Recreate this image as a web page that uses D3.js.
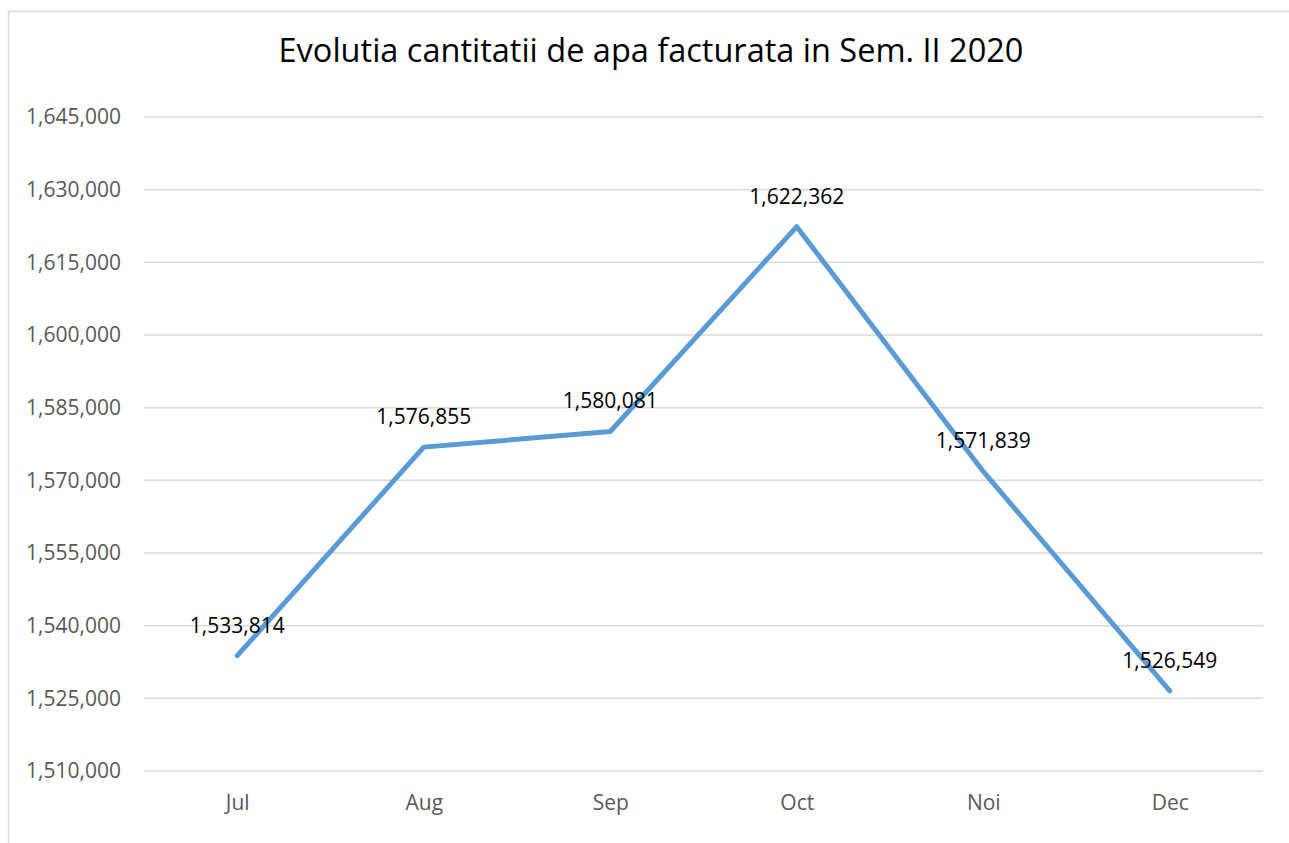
<!DOCTYPE html>
<html>
<head>
<meta charset="utf-8">
<script src="https://cdn.jsdelivr.net/npm/d3@7"></script>
<style>
  body { margin: 0; background: #fff; }
  .chart text { font-family: 'Open Sans', sans-serif; }
</style>
</head>
<body>
<div class="chart"></div>
<script>
const months = ['Jul', 'Aug', 'Sep', 'Oct', 'Noi', 'Dec']
const values = [1533814, 1576855, 1580081, 1622362, 1571839, 1526549]
const yTicks = [1510000, 1525000, 1540000, 1555000, 1570000, 1585000, 1600000, 1615000, 1630000, 1645000]
const title = 'Evolutia cantitatii de apa facturata in Sem. II 2020'

const width = 1289
const height = 843
const margin = { top: 117, right: 26, bottom: 72, left: 144 }

const svg = d3.select('.chart')
  .append('svg')
  .attr('width', width)
  .attr('height', height)

// chart frame
svg.append('rect')
  .attr('x', 8.5)
  .attr('y', 11.5)
  .attr('width', 1300)
  .attr('height', 900)
  .attr('fill', 'none')
  .attr('stroke', '#d9d9d9')
  .attr('stroke-width', 1.5)

const x = d3.scalePoint()
  .domain(months)
  .range([margin.left, width - margin.right])
  .padding(0.5)

const y = d3.scaleLinear()
  .domain([1510000, 1645000])
  .range([height - margin.bottom, margin.top])

const fmt = d3.format(',')

// gridlines
svg.append('g')
  .selectAll('line')
  .data(yTicks)
  .enter()
  .append('line')
  .attr('x1', margin.left)
  .attr('x2', width - margin.right)
  .attr('y1', (d) => { return y(d) })
  .attr('y2', (d) => { return y(d) })
  .attr('stroke', '#d9d9d9')
  .attr('stroke-width', 1.5)

// y axis labels
const yAxis = d3.axisLeft(y).tickValues(yTicks).tickFormat(fmt).tickSize(0).tickPadding(23)
const gy = svg.append('g')
  .attr('transform', `translate(${margin.left},0)`)
  .call(yAxis)
gy.select('.domain').remove()
gy.selectAll('text')
  .attr('fill', '#595959')
  .style('font-size', '21px')

// x axis labels
const xAxis = d3.axisBottom(x).tickSize(0).tickPadding(24)
const gx = svg.append('g')
  .attr('transform', `translate(0,${height - margin.bottom})`)
  .call(xAxis)
gx.select('.domain').remove()
gx.selectAll('text')
  .attr('fill', '#595959')
  .style('font-size', '21px')

// title
svg.append('text')
  .attr('x', 651)
  .attr('y', 62)
  .attr('text-anchor', 'middle')
  .attr('fill', '#000')
  .style('font-size', '32.5px')
  .text(title)

// line
const line = d3.line()
  .x((d, i) => { return x(months[i]) })
  .y((d) => { return y(d) })

svg.append('path')
  .datum(values)
  .attr('d', line)
  .attr('fill', 'none')
  .attr('stroke', '#5b9bd5')
  .attr('stroke-width', 5)
  .attr('stroke-linejoin', 'round')
  .attr('stroke-linecap', 'round')

// data labels
svg.append('g')
  .selectAll('text')
  .data(values)
  .enter()
  .append('text')
  .attr('x', (d, i) => { return x(months[i]) })
  .attr('y', (d) => { return y(d) - 23 })
  .attr('text-anchor', 'middle')
  .attr('fill', '#000')
  .style('font-size', '21px')
  .text((d) => { return fmt(d) })
</script>
</body>
</html>
